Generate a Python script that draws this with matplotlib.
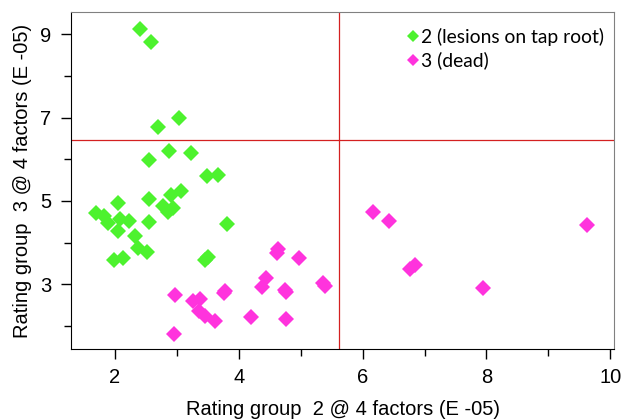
import matplotlib
matplotlib.use('Agg')
from matplotlib import pyplot as plt
from matplotlib.ticker import MultipleLocator

# group 2 (lesions on tap root)
green_x = [2.40, 2.59, 3.04, 2.70, 2.88, 2.55, 3.23, 3.48, 3.66, 2.91, 3.06, 2.55,
           1.70, 1.82, 1.89, 2.05, 2.08, 2.23, 2.05, 2.55, 2.77, 2.94, 2.86, 3.81,
           2.32, 2.38, 2.51, 1.98, 2.13, 3.45, 3.51]
green_y = [9.12, 8.82, 6.98, 6.77, 6.20, 5.98, 6.15, 5.59, 5.61, 5.15, 5.23, 5.05,
           4.71, 4.65, 4.47, 4.95, 4.57, 4.52, 4.29, 4.50, 4.87, 4.84, 4.73, 4.45,
           4.15, 3.86, 3.77, 3.58, 3.64, 3.58, 3.65]

# group 3 (dead)
pink_x = [2.97, 2.95, 3.26, 3.38, 3.36, 3.45, 3.62, 3.78, 3.76, 4.19, 4.38, 4.44,
          4.63, 4.62, 4.74, 4.77, 4.77, 4.98, 5.36, 5.40, 6.16, 6.43, 6.84, 6.76,
          7.94, 9.62]
pink_y = [2.74, 1.82, 2.60, 2.64, 2.35, 2.25, 2.12, 2.85, 2.80, 2.22, 2.93, 3.15,
          3.85, 3.75, 2.86, 2.81, 2.16, 3.62, 3.04, 2.95, 4.74, 4.52, 3.47, 3.37,
          2.91, 4.42]

cut_x = 5.62
cut_y = 6.47

fig = plt.figure(figsize=(6.21, 4.19), dpi=100)
ax = fig.add_axes([71 / 621, 70 / 419, 543 / 621, 337 / 419])

ax.plot(green_x, green_y, 'D', color='#4df22e', markersize=8, markeredgewidth=0,
        label='2 (lesions on tap root)')
ax.plot(pink_x, pink_y, 'D', color='#ff33dd', markersize=8, markeredgewidth=0,
        label='3 (dead)')

ax.axvline(cut_x, color='#d42020', linewidth=0.9)
ax.axhline(cut_y, color='#d42020', linewidth=0.9)

ax.set_xlim(1.29, 10.06)
ax.set_ylim(1.45, 9.53)
ax.xaxis.set_major_locator(MultipleLocator(2))
ax.xaxis.set_minor_locator(MultipleLocator(1))
ax.yaxis.set_major_locator(MultipleLocator(2, offset=1))
ax.yaxis.set_minor_locator(MultipleLocator(1))

ax.tick_params(which='major', length=7, width=1, labelsize=14.5, pad=7)
ax.tick_params(which='minor', length=5, width=1)
for lab in ax.get_xticklabels() + ax.get_yticklabels():
    lab.set_fontfamily('Liberation Sans')

ax.spines['left'].set_color('black')
ax.spines['bottom'].set_color('black')
ax.spines['top'].set_color('#808080')
ax.spines['right'].set_color('#808080')

ax.set_xlabel('Rating group  2 @ 4 factors (E -05)', fontsize=14.5,
              family='Liberation Sans', labelpad=9)
ax.set_ylabel('Rating group  3 @ 4 factors (E -05)', fontsize=14.5,
              family='Liberation Sans', labelpad=6)

ax.legend(loc='upper right', bbox_to_anchor=(1.01, 1.0), frameon=False,
          markerscale=0.8, handlelength=0.5, handletextpad=0.15,
          labelspacing=0.32, borderpad=0.3,
          prop={'family': 'Lato', 'size': 13.9})

fig.savefig('out.png', dpi=100)
